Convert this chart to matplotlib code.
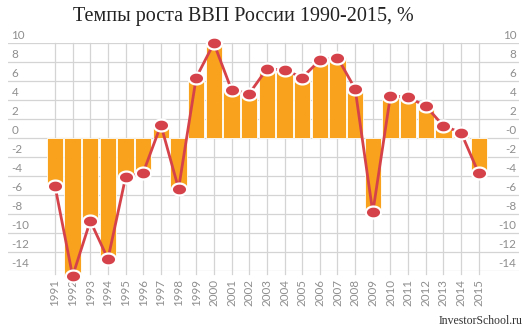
import matplotlib
matplotlib.use("Agg")
import matplotlib.pyplot as plt
import numpy as np
from matplotlib.path import Path
from matplotlib.transforms import blended_transform_factory

# Annual real GDP growth of Russia, %
years = ["1991", "1992", "1993", "1994", "1995", "1996", "1997", "1998", "1999",
         "2000", "2001", "2002", "2003", "2004", "2005", "2006", "2007", "2008",
         "2009", "2010", "2011", "2012", "2013", "2014", "2015"]
growth = [-5.0, -14.5, -8.7, -12.7, -4.1, -3.6, 1.4, -5.3, 6.4,
          10.0, 5.1, 4.7, 7.3, 7.2, 6.4, 8.2, 8.5, 5.2,
          -7.8, 4.5, 4.3, 3.4, 1.3, 0.6, -3.7]
y_ticks = [10, 8, 6, 4, 2, 0, -2, -4, -6, -8, -10, -12, -14]
left_labels = ["10", "8", "6", "4", "2", "0", "-2", "-4", "-6", "-8", "-10", "-12", "-14"]
right_labels = ["10", "8", "6", "4", "2", "-0", "-2", "-4", "-6", "-8", "-10", "-12", "-14"]
title = "Темпы роста ВВП России 1990-2015, %"
credit = "InvestorSchool.ru"

BAR = "#F8A21D"
LINE = "#D6424A"
GRID = "#D4D4D4"
TICK_TXT = "#8E8E8E"
TICK_FONT = dict(fontsize=8.4, color=TICK_TXT, family="Lato")

W, H = 532, 332
fig = plt.figure(figsize=(W / 100, H / 100), dpi=100)
fig.patch.set_facecolor("white")

# axes placement in pixels
ax_l, ax_r = 8, 519
ax_top, ax_bot = 43.3, 271.3
ax = fig.add_axes([ax_l / W, 1 - ax_bot / H, (ax_r - ax_l) / W, (ax_bot - ax_top) / H])

x = np.arange(len(years))
ax.set_xlim(-2.66, 26.28)
ax.set_ylim(-14, 10)

for s in ax.spines.values():
    s.set_visible(False)
ax.set_xticks([])
ax.set_yticks([])

# horizontal grid
for v in y_ticks:
    ax.axhline(v, color=GRID, lw=0.9, zorder=0)
# vertical grid at each year, with a small tick below the axis
for xi in x:
    ax.plot([xi, xi], [-14.3, 10], color=GRID, lw=0.9, zorder=0, clip_on=False)

# bars
ax.bar(x, growth, width=0.93, color=BAR, edgecolor="white", linewidth=0.6,
       zorder=2, clip_on=False)

# ellipse marker
t = np.linspace(0, 2 * np.pi, 60)
ell = Path(np.column_stack([np.cos(t) * 1.0, np.sin(t) * 0.78]), closed=True)

ax.plot(x, growth, color=LINE, lw=2, zorder=3, clip_on=False)
ax.plot(x, growth, linestyle="none", marker=ell, markersize=11,
        markerfacecolor=LINE, markeredgecolor="white", markeredgewidth=1.6,
        zorder=4, clip_on=False)

# y labels, sitting above their grid lines on both sides
tf_l = blended_transform_factory(ax.transAxes, ax.transData)
for v, ll, rl in zip(y_ticks, left_labels, right_labels):
    ax.text((11.5 - ax_l) / (ax_r - ax_l), v + 0.8, ll, transform=tf_l,
            ha="left", va="center", **TICK_FONT)
    ax.text((516.5 - ax_l) / (ax_r - ax_l), v + 0.8, rl, transform=tf_l,
            ha="right", va="center", **TICK_FONT)

# rotated year labels
for xi, lab in zip(x, years):
    ax.text(xi, -14.85, lab, rotation=90, ha="center", va="top",
            clip_on=False, **TICK_FONT)

fig.text(243 / W, 1 - 16 / H, title, ha="center", va="center",
         fontsize=14.5, color="#222222", family="Liberation Serif")
fig.text(522 / W, 1 - 321 / H, credit, ha="right", va="center",
         fontsize=8.5, color="#333333", family="Liberation Serif")

fig.savefig("out.png", dpi=100, facecolor="white")
